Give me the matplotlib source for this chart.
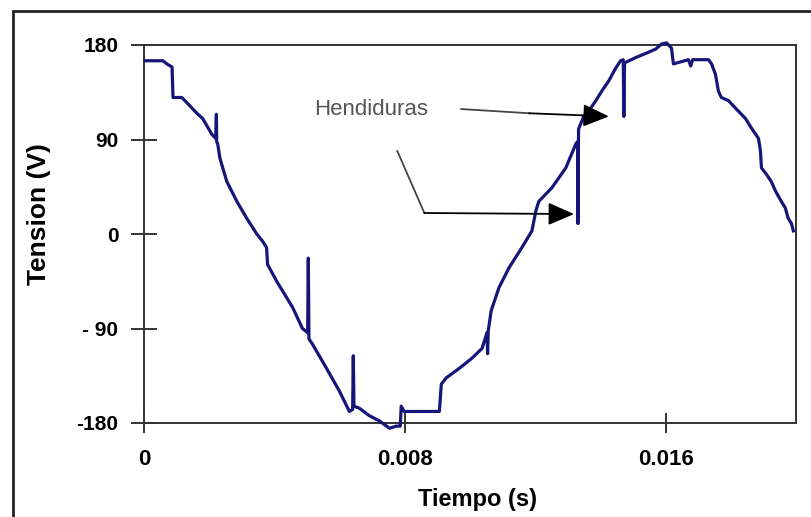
import matplotlib
matplotlib.use("Agg")
import matplotlib.pyplot as plt
from matplotlib.patches import Rectangle

# waveform (time in ms, voltage in V)
t_ms = [0.03, 0.58, 0.70, 0.86, 0.89, 1.16, 1.41, 1.62, 1.80, 2.08, 2.20, 2.22, 2.23, 2.26,
        2.33, 2.54, 2.85, 3.15, 3.46, 3.64, 3.76, 3.79, 4.07, 4.56, 4.86, 5.02, 5.04, 5.06,
        5.17, 5.60, 6.00, 6.30, 6.40, 6.42, 6.44, 6.61, 6.91, 7.22, 7.53, 7.74, 7.86, 7.89, 7.98,
        9.06, 9.12, 9.27, 9.67, 10.07, 10.37, 10.52, 10.54, 10.56, 10.65, 10.89, 11.20,
        11.59, 11.90, 12.02, 12.11, 12.51, 12.94, 13.25, 13.30, 13.31, 13.33, 13.49, 13.64, 13.86,
        14.04, 14.26, 14.47, 14.62, 14.70, 14.72, 14.74, 14.81, 15.08, 15.39, 15.69, 15.88, 16.03,
        16.18, 16.24, 16.70, 16.77, 16.83, 17.32, 17.41, 17.53, 17.62, 17.71, 17.93, 18.14, 18.45,
        18.63, 18.85, 18.91, 18.94, 19.09, 19.24, 19.37, 19.55, 19.67, 19.76, 19.86, 19.92]
volts = [165, 165, 162, 159, 130, 130, 122, 115, 110, 95, 91, 114, 88, 86,
         72, 50, 31, 15, 0, -7, -13, -29, -45, -70, -90, -94, -23, -100,
         -105, -128, -150, -169, -167, -116, -164, -166, -173, -178, -185, -183, -183, -164, -169,
         -169, -143, -137, -128, -118, -109, -94, -114, -92, -73, -51, -32,
         -13, 3, 22, 31, 44, 63, 86, 88, 10, 100, 112, 117, 127,
         136, 146, 158, 165, 166, 112, 163, 164, 168, 172, 176, 181, 182,
         177, 162, 166, 160, 166, 166, 162, 152, 136, 130, 127, 120, 110,
         101, 91, 79, 63, 57, 50, 41, 31, 25, 15, 10, 3]

x_ticks = [0, 0.008, 0.016]
x_tick_labels = ["0", "0.008", "0.016"]
y_ticks = [-180, -90, 0, 90, 180]
y_tick_labels = ["-180", "- 90", "0", "90", "180"]

# annotation arrow paths (time s, V)
arrow1_t = [0.00973, 0.01181, 0.01426]
arrow1_v = [119, 115, 112]
arrow2_t = [0.00777, 0.00860, 0.01319]
arrow2_v = [79, 20, 19]

plt.rcParams["font.family"] = ["Liberation Sans", "DejaVu Sans"]

fig = plt.figure(figsize=(8.11, 5.17), dpi=100)
ax = fig.add_axes([144 / 811, 1 - 423 / 517, 652 / 811, 378 / 517])

t_s = [t / 1000 for t in t_ms]
ax.plot(t_s, volts, color="#15157a", lw=2.3, clip_on=False, zorder=3)

ax.set_xlim(0, 0.02)
ax.set_ylim(-180, 180)
ax.set_xticks(x_ticks)
ax.set_xticklabels(x_tick_labels, fontsize=16, fontweight="bold")
ax.set_yticks(y_ticks)
ax.set_yticklabels(y_tick_labels, fontsize=15, fontweight="bold")
ax.tick_params(axis="y", direction="inout", length=19, width=1.4, color="#333333", pad=9)
ax.tick_params(axis="x", direction="inout", length=14, width=1.4, color="#333333", pad=12)
for s in ax.spines.values():
    s.set_color("#333333")
    s.set_linewidth(1.4)

ax.set_xlabel("Tiempo (s)", fontsize=17, fontweight="bold")
ax.xaxis.set_label_coords(0.511, -0.172)
ax.set_ylabel("Tension (V)", fontsize=19, fontweight="bold")
ax.yaxis.set_label_coords(-0.142, 0.553)

# Hendiduras callout
ax.text(0.00697, 119, "Hendiduras", fontsize=16, color="#555555", ha="center", va="center")
ax.plot(arrow1_t[:2], arrow1_v[:2], color="#444444", lw=1.3, zorder=4)
ax.annotate("", xy=(arrow1_t[2], arrow1_v[2]), xytext=(arrow1_t[1], arrow1_v[1]),
            arrowprops=dict(arrowstyle="-|>,head_length=1.6,head_width=0.7",
                            color="#444444", lw=1.3, fc="black", ec="black",
                            shrinkA=0, shrinkB=0), zorder=4)
ax.plot(arrow2_t[:2], arrow2_v[:2], color="#444444", lw=1.3, zorder=4)
ax.annotate("", xy=(arrow2_t[2], arrow2_v[2]), xytext=(arrow2_t[1], arrow2_v[1]),
            arrowprops=dict(arrowstyle="-|>,head_length=1.6,head_width=0.7",
                            color="#444444", lw=1.3, fc="black", ec="black",
                            shrinkA=0, shrinkB=0), zorder=4)

# outer frame of the original figure
fig.add_artist(Rectangle((13 / 811, -0.1), 1.0, 1.1 - 11 / 517, transform=fig.transFigure,
                         fill=False, lw=2, ec="#222222"))

fig.savefig("out.png", dpi=100)
